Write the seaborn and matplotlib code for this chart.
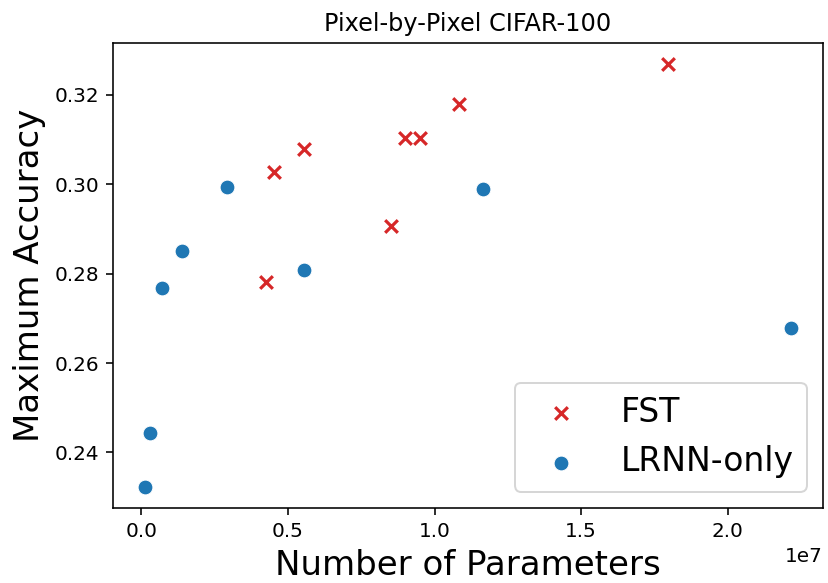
import matplotlib
matplotlib.use("Agg")
import matplotlib.pyplot as plt
import seaborn as sns
import pandas as pd

fst_params = [4.26e6, 4.52e6, 5.56e6, 8.53e6, 8.99e6, 9.52e6, 10.82e6, 17.96e6]
fst_acc = [0.2781, 0.3028, 0.3078, 0.2907, 0.3103, 0.3103, 0.3178, 0.3268]
lrnn_params = [0.136e6, 0.305e6, 0.712e6, 1.39e6, 2.91e6, 5.56e6, 11.66e6, 22.15e6]
lrnn_acc = [0.2323, 0.2444, 0.2767, 0.2850, 0.2994, 0.2808, 0.2990, 0.2678]

fst = pd.DataFrame({"params": fst_params, "acc": fst_acc})
lrnn = pd.DataFrame({"params": lrnn_params, "acc": lrnn_acc})

plt.rcParams["font.family"] = ["DejaVu Sans"]

fig, ax = plt.subplots(figsize=(5.75, 4.049), dpi=144)
fig.subplots_adjust(left=0.1365, right=0.994, top=0.926, bottom=0.1286)

sns.scatterplot(data=fst, x="params", y="acc", marker="x", color="#d62728",
                s=40, linewidth=1.6, label="FST", ax=ax)
sns.scatterplot(data=lrnn, x="params", y="acc", marker="o", color="#1f77b4",
                s=55, edgecolor="white", linewidth=0.5, label="LRNN-only", ax=ax)

ax.set_title("Pixel-by-Pixel CIFAR-100", fontsize=12)
ax.set_xlabel("Number of Parameters", fontsize=17)
ax.set_ylabel("Maximum Accuracy", fontsize=17)
ax.tick_params(labelsize=10)
ax.set_yticks([0.24, 0.26, 0.28, 0.30, 0.32])
ax.legend(loc="lower right", fontsize=16.5)

fig.savefig("out.png", dpi=144)
